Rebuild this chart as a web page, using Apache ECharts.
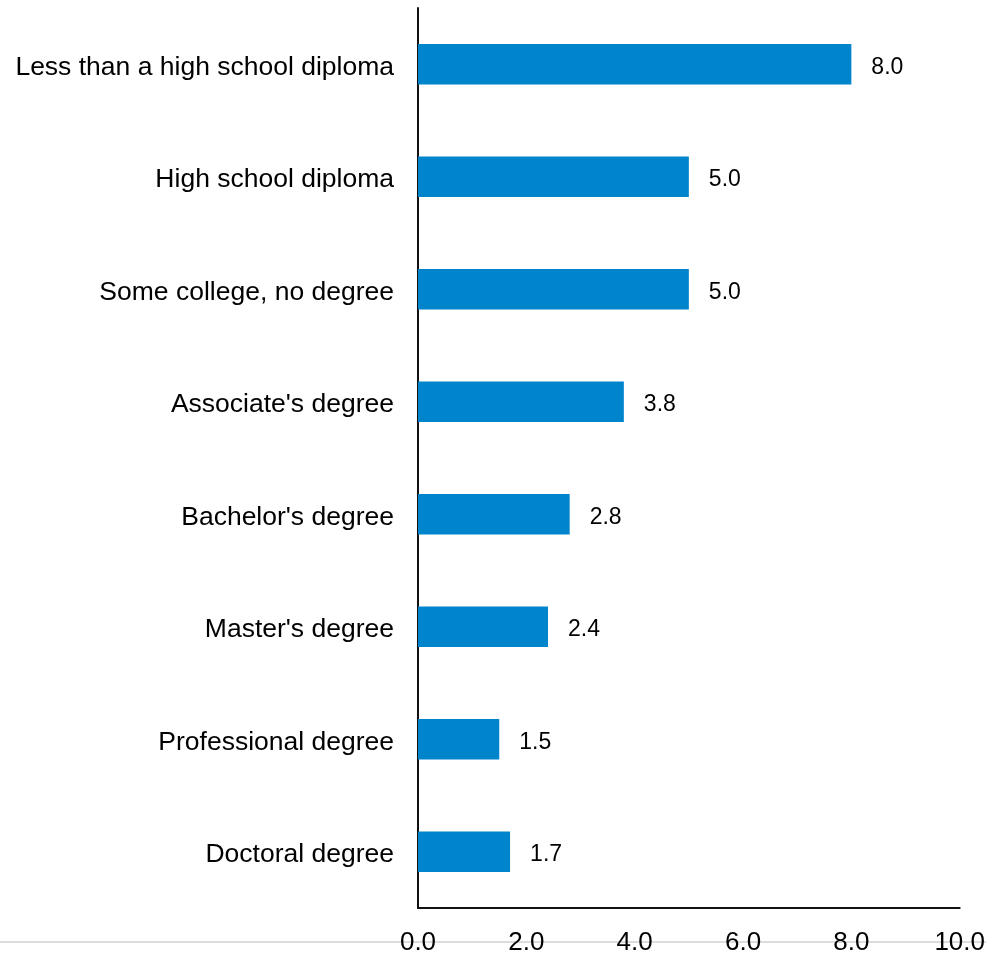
<!DOCTYPE html>
<html>
<head>
<meta charset="utf-8">
<script src="https://cdn.jsdelivr.net/npm/echarts@6/dist/echarts.min.js"></script>
<style>
html,body{margin:0;padding:0;background:#fff;}
#chart{width:988px;height:956px;}
</style>
</head>
<body>
<div id="chart"></div>
<script>
var categories = ["Less than a high school diploma","High school diploma","Some college, no degree","Associate's degree","Bachelor's degree","Master's degree","Professional degree","Doctoral degree"];
var values = [8.0, 5.0, 5.0, 3.8, 2.8, 2.4, 1.5, 1.7];
var xTicks = [0, 2, 4, 6, 8, 10];

var FONT = 'Arial, "Liberation Sans", sans-serif';
var chart = echarts.init(document.getElementById('chart'));
chart.setOption({
  animation: false,
  backgroundColor: '#fff',
  graphic: [{
    type: 'line',
    z: -10,
    shape: {x1: 0, y1: 942, x2: 986, y2: 942},
    style: {stroke: '#dcdcdc', lineWidth: 2}
  }],
  grid: {left: 418, right: 27, top: 8, bottom: 46, containLabel: false},
  xAxis: {
    type: 'value',
    min: xTicks[0],
    max: xTicks[xTicks.length - 1],
    interval: 2,
    axisLine: {show: true, lineStyle: {color: '#111', width: 2}},
    axisTick: {show: false},
    splitLine: {show: false},
    axisLabel: {
      margin: 22,
      color: '#000',
      fontSize: 26,
      fontFamily: FONT,
      formatter: function (v) { return v.toFixed(1); }
    }
  },
  yAxis: {
    type: 'category',
    data: categories,
    inverse: true,
    axisLine: {show: true, lineStyle: {color: '#111', width: 2}},
    axisTick: {show: false},
    splitLine: {show: false},
    axisLabel: {margin: 24, color: '#000', fontSize: 26.5, fontFamily: FONT, verticalAlign: 'top', lineHeight: 6}
  },
  series: [{
    type: 'bar',
    data: values,
    barWidth: '36%',
    itemStyle: {color: '#0084CC'},
    label: {
      show: true,
      position: 'right',
      distance: 20,
      offset: [0, 3],
      color: '#000',
      fontSize: 23,
      fontFamily: FONT,
      formatter: function (p) { return p.value.toFixed(1); }
    }
  }]
});
</script>
</body>
</html>
